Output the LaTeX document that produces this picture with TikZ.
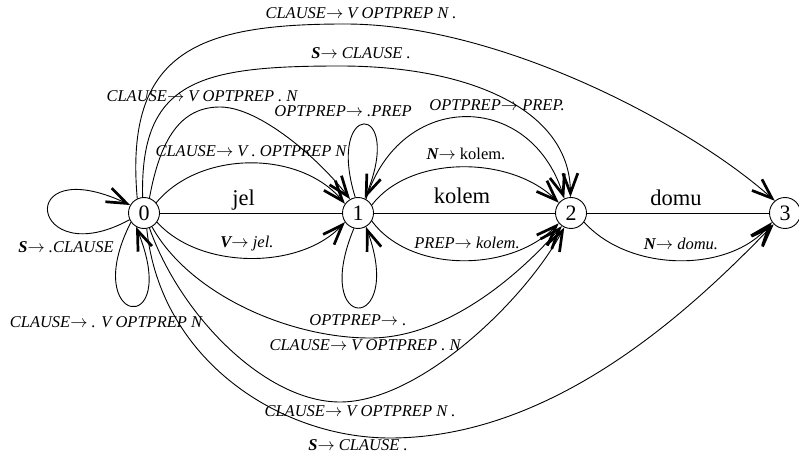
\documentclass[tikz,border=0pt]{standalone}
\usepackage{fontspec}
\setmainfont{Liberation Serif}
\usetikzlibrary{arrows.meta}
\tikzset{
  st/.style={circle, draw, line width=0.9pt, minimum size=31pt, inner sep=0pt, fill=white, font=\fontsize{22}{24}\selectfont},
  lbl/.style={inner sep=0pt, anchor=base, font=\fontsize{16.5}{18}\selectfont\itshape},
  big/.style={inner sep=0pt, anchor=base, font=\fontsize{22.5}{24}\selectfont},
  edge/.style={line width=0.9pt},
  arc/.style={line width=0.9pt, -{Straight Barb[length=20pt, width=15pt, line width=2.7pt]}},
}
\newcommand{\ar}{$\rightarrow$}
\begin{document}
\begin{tikzpicture}[x=1pt,y=-1pt]
\useasboundingbox (0,0) rectangle (799,454);
% states
\node[st] (n0) at (144,213) {0};
\node[st] (n1) at (358,213) {1};
\node[st] (n2) at (571,213) {2};
\node[st] (n3) at (785,213) {3};
% straight edges
\draw[edge] (n0) -- (n1);
\draw[edge] (n1) -- (n2);
\draw[edge] (n2) -- (n3);
\node[big] (tjel) at (243.5,206) {jel};
\node[big] (tkolem) at (462,204) {kolem};
\node[big] (tdomu) at (676,205) {domu};
% top arcs
\draw[arc] (n0.115) .. controls (124,50) and (200,24) .. (345,24) .. controls (500,24) and (690,125) .. (n3.130);
\draw[arc] (n0.95) .. controls (140,80) and (200,66) .. (340,66) .. controls (470,66) and (570,110) .. (n2.92);
\draw[arc] (n0.70) .. controls (160,140) and (180,107) .. (220,107) .. controls (260,107) and (320,160) .. (n1.120);
\draw[arc] (n0.40) .. controls (200,150) and (300,150) .. (n1.145);
\draw[arc] (n1.60) .. controls (400,90) and (530,90) .. (n2.115);
\draw[arc] (n1.30) .. controls (410,155) and (510,155) .. (n2.140);
% bottom arcs
\draw[arc] (n0.-35) .. controls (200,270) and (300,270) .. (n1.-145);
\draw[arc] (n1.-30) .. controls (410,273) and (510,273) .. (n2.-140);
\draw[arc] (n2.-35) .. controls (630,273) and (730,273) .. (n3.-145);
\draw[arc] (n0.-60) .. controls (190,295) and (290,338) .. (370,338) .. controls (440,338) and (510,285) .. (n2.-125);
\draw[arc] (n0.-70) .. controls (180,315) and (265,402) .. (340,402) .. controls (420,402) and (525,300) .. (n2.-115);
\draw[arc] (n0.-80) .. controls (160,360) and (280,438) .. (390,438) .. controls (560,438) and (700,300) .. (n3.-135);
% loops
\draw[arc] (n0.205) .. controls (30,274) and (12,150) .. (n0.150);
\draw[arc] (n0.215) .. controls (78,326) and (182,340) .. (n0.240);
\draw[arc] (n1.100) .. controls (325,100) and (405,100) .. (n1.65);
\draw[arc] (n1.255) .. controls (310,334) and (405,334) .. (n1.300);
% labels
\node[lbl] (l1) at (361,18.5) {CLAUSE\ar{} V OPTPREP N .};
\node[lbl] (l2) at (361,58.5) {\textbf{S}\ar{} CLAUSE .};
\node[lbl] (l3) at (202,101.5) {CLAUSE\ar{} V OPTPREP . N};
\node[lbl] (l4) at (343,116.5) {OPTPREP\ar{} .PREP};
\node[lbl] (l5) at (497,110.5) {OPTPREP\ar{} PREP.};
\node[lbl] (l6) at (251,156.5) {CLAUSE\ar{} V . OPTPREP N};
\node[lbl] (l7) at (466,159.5) {\textbf{N}\ar{} \textup{kolem.}};
\node[lbl] (l8) at (247,247.5) {\textbf{V}\ar{} jel.};
\node[lbl] (l9) at (467,248.5) {PREP\ar{} kolem.};
\node[lbl] (l10) at (681,249) {\textbf{N}\ar{} domu.};
\node[lbl] (l11) at (66,252) {\textbf{S}\ar{} .CLAUSE};
\node[lbl] (l12) at (106,327) {CLAUSE\ar{} . V OPTPREP N};
\node[lbl] (l13) at (358,325) {OPTPREP\ar{} .};
\node[lbl] (l14) at (365,350) {CLAUSE\ar{} V OPTPREP . N};
\node[lbl] (l15) at (360,416) {CLAUSE\ar{} V OPTPREP N .};
\node[lbl] (l16) at (358,450) {\textbf{S}\ar{} CLAUSE .};
\end{tikzpicture}
\end{document}
